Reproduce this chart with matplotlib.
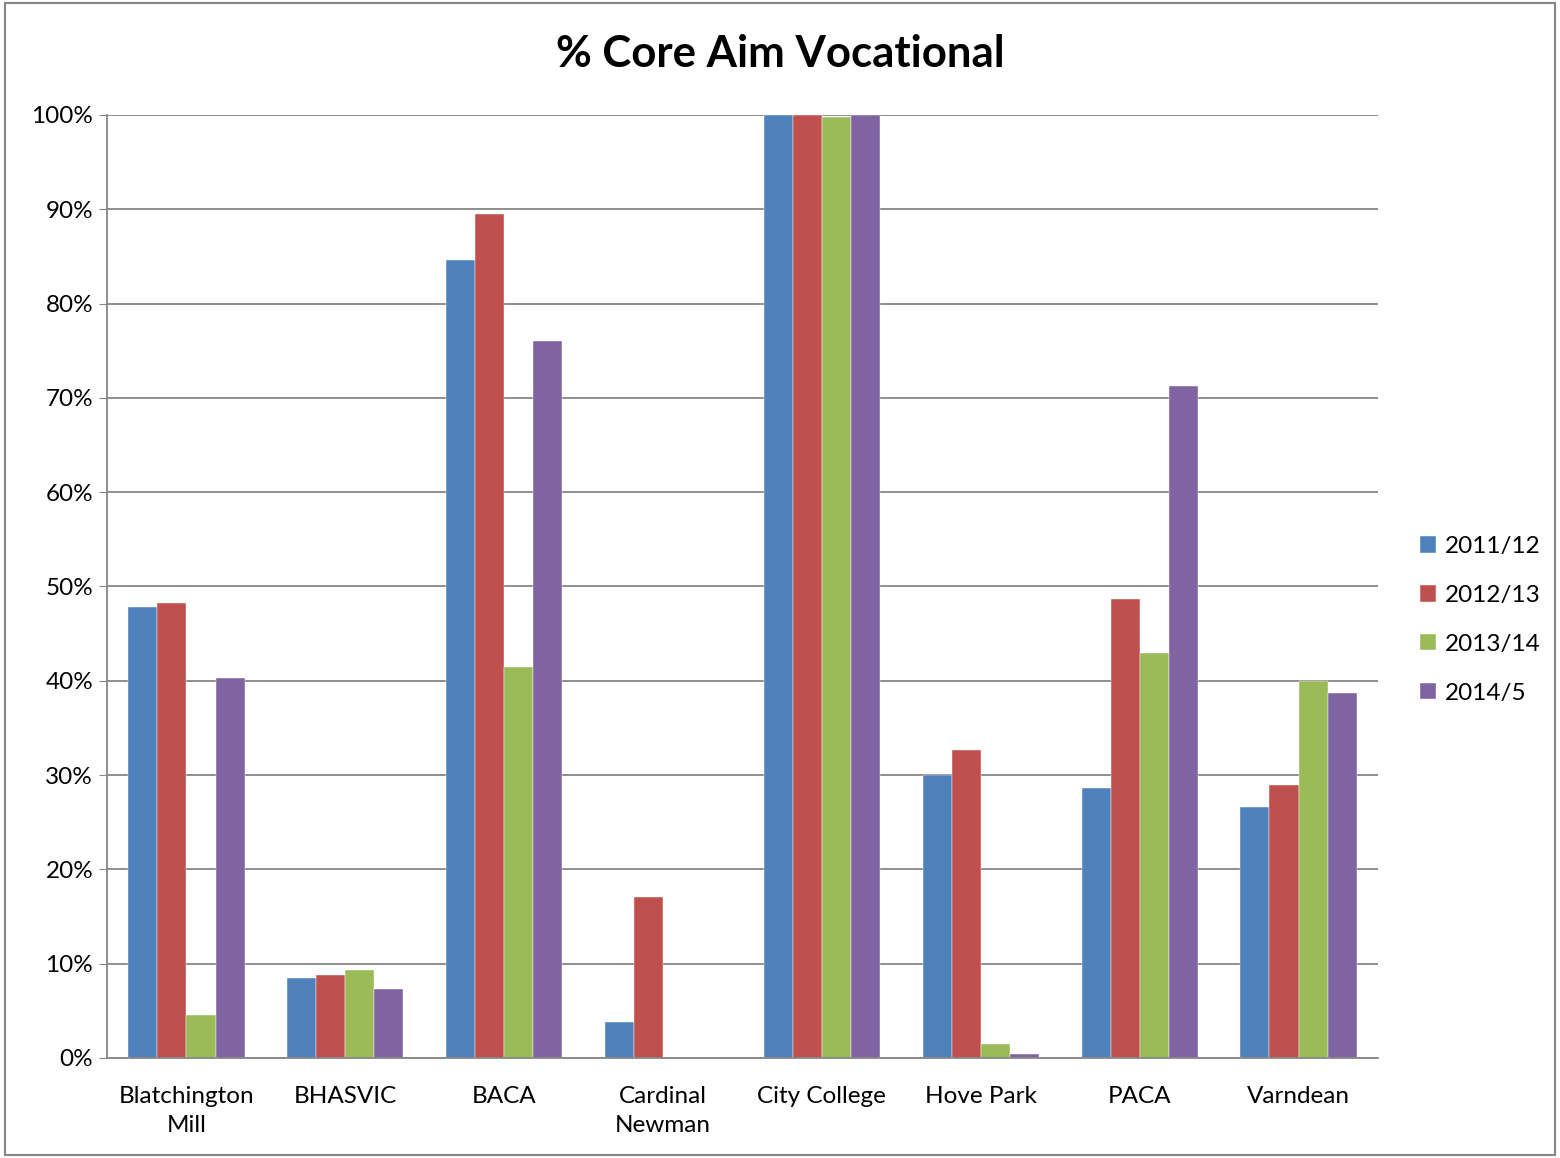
import matplotlib.pyplot as plt
import numpy as np
from matplotlib.patches import Rectangle

plt.rcParams['font.family'] = ['Lato', 'DejaVu Sans']

schools = ['Blatchington\nMill', 'BHASVIC', 'BACA', 'Cardinal\nNewman',
           'City College', 'Hove Park', 'PACA', 'Varndean']
years = ['2011/12', '2012/13', '2013/14', '2014/5']
y2011 = [47.8, 8.5, 84.6, 3.8, 100.0, 30.0, 28.6, 26.6]
y2012 = [48.2, 8.8, 89.5, 17.1, 100.0, 32.7, 48.7, 28.9]
y2013 = [4.6, 9.3, 41.5, 0.0, 99.8, 1.5, 42.9, 40.0]
y2014 = [40.3, 7.3, 76.0, 0.0, 100.0, 0.4, 71.3, 38.7]
colors = ['#4F81BD', '#C0504D', '#9BBB59', '#8064A2']

fig = plt.figure(figsize=(15.6, 11.58), dpi=100)
ax = fig.add_axes([0.0686, 0.0864, 0.8147, 0.8143])

x = np.arange(len(schools))
w = 0.183
series = [y2011, y2012, y2013, y2014]
for i, (vals, c, lab) in enumerate(zip(series, colors, years)):
    ax.bar(x + (i - 1.5) * w, vals, w, color=c, label=lab, zorder=3,
           edgecolor='white', linewidth=0.3)

ax.set_xlim(-0.5, len(schools) - 0.5)
ax.set_ylim(0, 100)
ax.set_yticks(np.arange(0, 101, 10))
ax.set_yticklabels([f'{v}%' for v in range(0, 101, 10)])
ax.set_xticks(x)
ax.set_xticklabels(schools, linespacing=1.5)
ax.tick_params(axis='y', labelsize=17.5, length=6, color='#868686', pad=4)
ax.tick_params(axis='x', labelsize=17.5, length=0, pad=20)
ax.grid(axis='y', color='#868686', linewidth=1.3, zorder=0)
for s in ['top', 'right']:
    ax.spines[s].set_visible(False)
for s in ['left', 'bottom']:
    ax.spines[s].set_color('#868686')
    ax.spines[s].set_linewidth(1.3)
    ax.spines[s].set_zorder(4)

fig.text(0.5, 0.953, '% Core Aim Vocational', ha='center', va='center',
         fontsize=31.5, fontweight='bold')

ax.legend(loc='center left', bbox_to_anchor=(1.016, 0.4645), frameon=False,
          fontsize=17.5, handlelength=0.65, handleheight=0.65, labelspacing=1.15,
          handletextpad=0.35)

fig.patches.append(Rectangle((0.003, 0.003), 0.994, 0.994, transform=fig.transFigure,
                             fill=False, edgecolor='#868686', linewidth=1.5))

fig.savefig('out.png', dpi=100)
